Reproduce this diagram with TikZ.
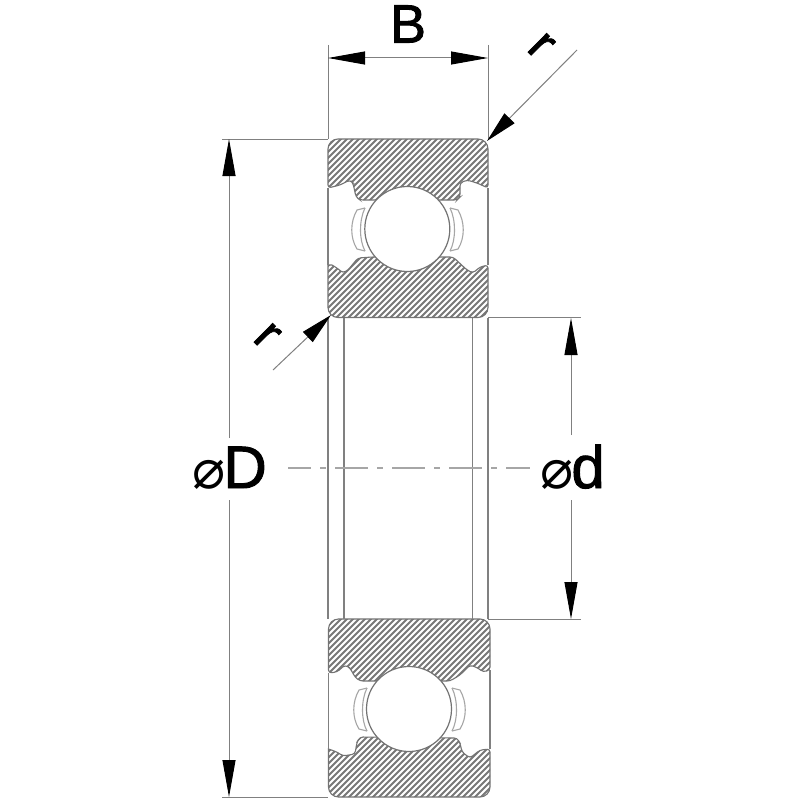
\documentclass[tikz,border=0pt]{standalone}
\usepackage{fontspec}
\setmainfont{Liberation Sans}
\newfontfamily\heavyfont[FakeBold=1.6]{Liberation Sans}
\newfontfamily\symfont{DejaVu Sans}
\usetikzlibrary{arrows.meta}
\definecolor{hatchgray}{gray}{0.47}
\definecolor{edgegray}{gray}{0.45}
\definecolor{dimgray}{gray}{0.5}
\newcommand{\ringA}{(328,188) [rounded corners=10pt] -- (328,139) -- (488,139) [rounded corners=3pt] -- (488,188) -- (477,183) -- (467,180) -- (460,183) -- (460,197) -- (457,200) -- (360,200) -- (356,197) -- (353,183) -- (350,180) -- (340,185) -- cycle}
\newcommand{\ringB}{(328,265) -- (332,265) [rounded corners=3pt] -- (337,268) -- (343,273) -- (348,270) -- (358,258) -- (372,257) -- (453,257) -- (467,270) -- (473,273) -- (480,267) -- (488,265) -- (488,275) [rounded corners=10pt] -- (488,317.5) -- (328,317.5) [sharp corners] -- cycle}
\newcommand{\ringC}{(328.5,673) [rounded corners=10pt] -- (328.5,619) -- (490,619) [rounded corners=3pt] -- (490,670) -- (483,672) -- (478,668) -- (470,665) -- (460,675) -- (450,681) -- (360,681) -- (355,677) -- (350,668) -- (345,665) -- (337,672) -- cycle}
\newcommand{\ringD}{(328.5,749) [rounded corners=3pt] -- (337,752) -- (343,756) -- (355,754) -- (357,742) -- (360,737) -- (457,738) -- (460,743) -- (462,752) -- (470,758) -- (480,750) -- (490,749) -- (490,760) [rounded corners=10pt] -- (490,797) -- (328.5,797) [sharp corners] -- cycle}
\newcommand{\sealpair}{%
  \draw[sealline] (365,208) -- (357,210) .. controls (350,222) and (350,238) .. (357,249) -- (365,251);
  \draw[sealline] (365,208) .. controls (359,220) and (359,240) .. (365,251);
  \draw[sealline] (450,208) -- (458,210) .. controls (465,222) and (465,238) .. (458,249) -- (450,251);
  \draw[sealline] (450,208) .. controls (456,220) and (456,240) .. (450,251);
}
\tikzset{
  x=1pt,y=-1pt,
  hatchline/.style={draw=hatchgray,line width=1.8pt},
  ringedge/.style={draw=edgegray,line width=1.1pt},
  sealline/.style={draw=dimgray!70,line width=1.1pt},
  dimline/.style={draw=dimgray,line width=1pt},
  boreline/.style={draw=dimgray,line width=1.2pt},
  dimarrow/.style={dimline,{Triangle[length=37pt,width=13pt,black]}-{Triangle[length=37pt,width=13pt,black]}},
  headend/.style={dimline,-{Triangle[length=37pt,width=13pt,black]}},
  leaderhead/.style={dimline,-{Triangle[length=32pt,width=14pt,black]}},
  centerline/.style={draw=gray!70,line width=1.2pt,dash pattern=on 33pt off 9pt on 6pt off 9pt,dash phase=10pt},
  ballshape/.style={circle,draw=edgegray,fill=white,line width=1.2pt,minimum size=85pt,inner sep=0pt},
  bigtext/.style={inner sep=0pt,text=black},
}
\begin{document}
\begin{tikzpicture}
\useasboundingbox (0,0) rectangle (800,800);
\fill[white] (0,0) rectangle (800,800);
% hatching
\begin{scope}
  \clip \ringA \ringB \ringC \ringD;
  \foreach \c in {450,456,...,1310}{
    \draw[hatchline] (\c,0) -- (0,\c);
  }
\end{scope}
\draw[ringedge] \ringA;
\draw[ringedge] \ringB;
\draw[ringedge] \ringC;
\draw[ringedge] \ringD;
% bore lines
\foreach \a in {328,344,472.5,488}{
  \draw[boreline] (\a,317.5) -- (\a,619);
}
\draw[boreline] (328,188) -- (328,265);
\draw[boreline] (488,188) -- (488,265);
\draw[boreline] (328.5,673) -- (328.5,749);
\draw[boreline] (490,670) -- (490,749);
% balls and seals
\node[ballshape] (ballA) at (407.3,229) {};
\node[ballshape] (ballB) at (409,709) {};
\sealpair
\begin{scope}[shift={(2,480)}]
\sealpair
\end{scope}
% centre line
\coordinate (cl1) at (288,468);
\coordinate (cl2) at (530,468);
\draw[centerline] (cl1) -- (cl2);
% B dimension
\coordinate (bL) at (328,58);
\coordinate (bR) at (488,58);
\coordinate (bL0) at (328,45);
\coordinate (bR0) at (488,45);
\coordinate (bL1) at (328,139);
\coordinate (bR1) at (488,139);
\draw[dimline] (bL0) -- (bL1);
\draw[dimline] (bR0) -- (bR1);
\draw[dimarrow] (bL) -- (bR);
\node[bigtext,font=\heavyfont\fontsize{54}{54}\selectfont] (labelB) at (408,24) {B};
% r leaders
\coordinate (r1a) at (577,50);
\coordinate (r1b) at (487,141);
\coordinate (r2a) at (273,370);
\coordinate (r2b) at (331,315);
\draw[leaderhead] (r1a) -- (r1b);
\draw[leaderhead] (r2a) -- (r2b);
\node[bigtext,rotate=-45,font=\heavyfont\fontsize{50}{50}\selectfont] (labelR1) at (541,46) {r};
\node[bigtext,rotate=-45,font=\heavyfont\fontsize{50}{50}\selectfont] (labelR2) at (267,336) {r};
% D dimension
\coordinate (dA0) at (222,139);
\coordinate (dA1) at (328,139);
\coordinate (dB0) at (222,797);
\coordinate (dB1) at (328,797);
\coordinate (dTop) at (229,139);
\coordinate (dBot) at (229,797);
\coordinate (dMidA) at (229,438);
\coordinate (dMidB) at (229,500);
\draw[dimline] (dA0) -- (dA1);
\draw[dimline] (dB0) -- (dB1);
\draw[headend] (dMidA) -- (dTop);
\draw[headend] (dMidB) -- (dBot);
\node[bigtext,anchor=base east,font=\heavyfont\fontsize{60}{60}\selectfont] (labelD) at (267,488) {{\symfont\fontsize{55}{55}\selectfont ⌀}\kern-2ptD};
% d dimension
\coordinate (eA0) at (488,317);
\coordinate (eA1) at (581,317);
\coordinate (eB0) at (488,619);
\coordinate (eB1) at (581,619);
\coordinate (eTop) at (571,318);
\coordinate (eBot) at (571,619);
\coordinate (eMidA) at (571,435);
\coordinate (eMidB) at (571,500);
\draw[dimline] (eA0) -- (eA1);
\draw[dimline] (eB0) -- (eB1);
\draw[headend] (eMidA) -- (eTop);
\draw[headend] (eMidB) -- (eBot);
\node[bigtext,anchor=base east,font=\heavyfont\fontsize{60}{60}\selectfont] (labelDd) at (605,488) {{\symfont\fontsize{55}{55}\selectfont ⌀}\kern-2ptd};
\end{tikzpicture}
\end{document}
